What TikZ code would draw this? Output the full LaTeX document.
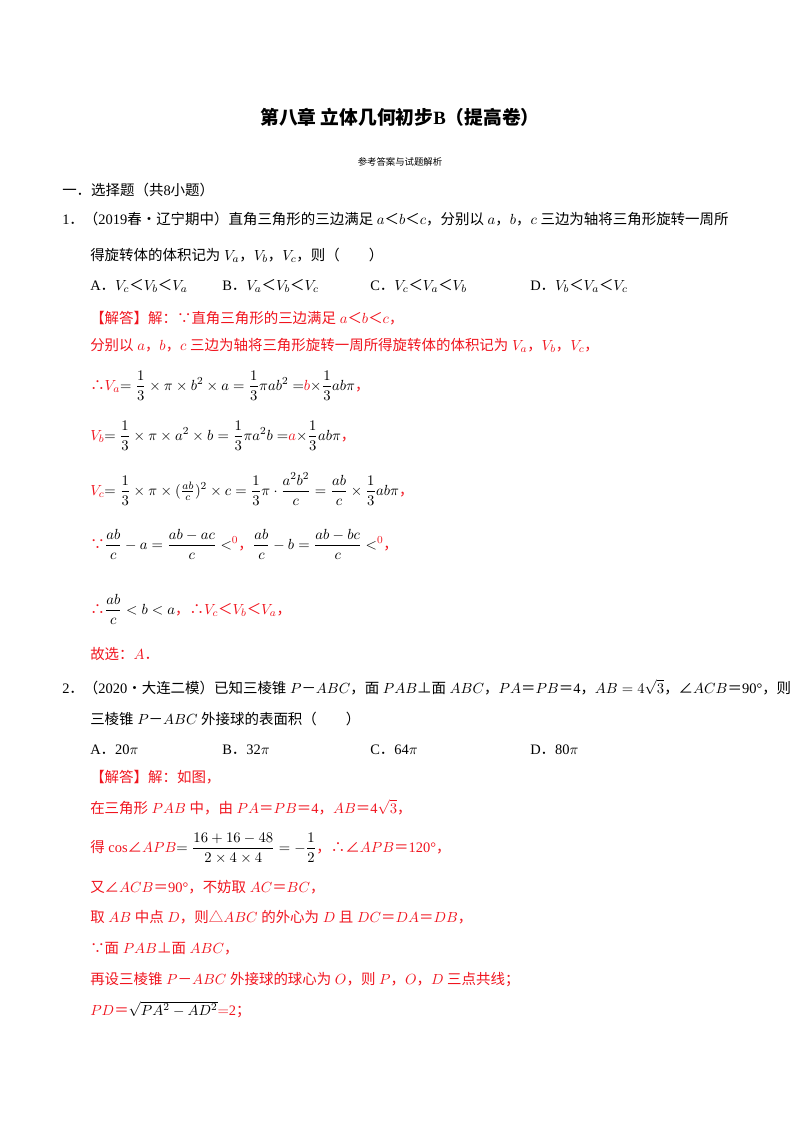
\documentclass[tikz,border=0pt]{standalone}
\usepackage{amsmath,amssymb}
\usepackage{fontspec}
\setmainfont{Liberation Serif}
\newfontfamily\cjk{Noto Sans CJK SC}
\newcommand\z[1]{{\cjk #1}}
\definecolor{ansred}{RGB}{240,20,30}
\begin{document}
\begin{tikzpicture}[x=0.02625cm,y=-0.02625cm,
  t/.style={anchor=base west,inner sep=0pt,font=\fontsize{10.8}{12}\selectfont},
  r/.style={t,text=ansred}]
\useasboundingbox (0,0) rectangle (800,1132);
\node[anchor=base,inner sep=0pt,font=\fontsize{14}{16}\selectfont\bfseries] (title) at (400,124) {\z{第八章 立体几何初步}B\z{（提高卷）}};
\node[anchor=base,inner sep=0pt,font=\fontsize{7}{8}\selectfont] (sub) at (400,165) {\z{参考答案与试题解析}};
\node[t] (sec) at (62,195) {\z{一．选择题（共}8\z{小题）}};
% Q1
\node[t] (q1a) at (62,224) {1\z{．（}2019\z{春•辽宁期中）直角三角形的三边满足} $a$\z{＜}$b$\z{＜}$c$\z{，分别以} $a$\z{，}$b$\z{，}$c$ \z{三边为轴将三角形旋转一周所}};
\node[t] (q1b) at (90,260) {\z{得旋转体的体积记为} $V_a$\z{，}$V_b$\z{，}$V_c$\z{，则（　　）}};
\node[t] (q1A) at (90,290) {A\z{．}$V_c$\z{＜}$V_b$\z{＜}$V_a$};
\node[t] (q1B) at (222,290) {B\z{．}$V_a$\z{＜}$V_b$\z{＜}$V_c$};
\node[t] (q1C) at (370,290) {C\z{．}$V_c$\z{＜}$V_a$\z{＜}$V_b$};
\node[t] (q1D) at (530,290) {D\z{．}$V_b$\z{＜}$V_a$\z{＜}$V_c$};
\node[r] (s1a) at (90,323) {\z{【解答】解：∵直角三角形的三边满足} $a$\z{＜}$b$\z{＜}$c$\z{，}};
\node[r] (s1b) at (90,350) {\z{分别以} $a$\z{，}$b$\z{，}$c$ \z{三边为轴将三角形旋转一周所得旋转体的体积记为} $V_a$\z{，}$V_b$\z{，}$V_c$\z{，}};
\node[r] (s1c) at (90,390) {\z{∴}$V_a$\textcolor{black}{$=\dfrac13\times\pi\times b^2\times a=\dfrac13\pi ab^2=$}$b$\textcolor{black}{$\times\dfrac13 ab\pi$}\z{，}};
\node[r] (s1d) at (90,440) {$V_b$\textcolor{black}{$=\dfrac13\times\pi\times a^2\times b=\dfrac13\pi a^2b=$}$a$\textcolor{black}{$\times\dfrac13 ab\pi$}\z{，}};
\node[r] (s1e) at (90,495) {$V_c$\textcolor{black}{$=\dfrac13\times\pi\times(\frac{ab}{c})^2\times c=\dfrac13\pi\cdot\dfrac{a^2b^2}{c}=\dfrac{ab}{c}\times\dfrac13 ab\pi$}\z{，}};
\node[r] (s1f) at (90,549) {\z{∵}\textcolor{black}{$\dfrac{ab}{c}-a=\dfrac{ab-ac}{c}<$}$^{0}$\z{，}\textcolor{black}{$\dfrac{ab}{c}-b=\dfrac{ab-bc}{c}<$}$^{0}$\z{，}};
\node[r] (s1g) at (90,614) {\z{∴}\textcolor{black}{$\dfrac{ab}{c}<b<a$}\z{，∴}$V_c$\z{＜}$V_b$\z{＜}$V_a$\z{，}};
\node[r] (s1h) at (90,659) {\z{故选：}$A$\z{．}};
% Q2
\node[t] (q2a) at (62,693) {2\z{．（}2020\z{•大连二模）已知三棱锥} $P$\z{－}$ABC$\z{，面} $PAB$\z{⊥面} $ABC$\z{，}$PA$\z{＝}$PB$\z{＝}4\z{，}$AB=4\sqrt3$\z{，}\z{∠}$ACB$\z{＝}90°\z{，则}};
\node[t] (q2b) at (90,724) {\z{三棱锥} $P$\z{－}$ABC$ \z{外接球的表面积（　　）}};
\node[t] (q2A) at (90,754) {A\z{．}20$\pi$};
\node[t] (q2B) at (222,754) {B\z{．}32$\pi$};
\node[t] (q2C) at (370,754) {C\z{．}64$\pi$};
\node[t] (q2D) at (530,754) {D\z{．}80$\pi$};
\node[r] (s2a) at (90,782) {\z{【解答】解：如图，}};
\node[r] (s2b) at (90,813) {\z{在三角形} $PAB$ \z{中，由} $PA$\z{＝}$PB$\z{＝}4\z{，}$AB$\z{＝}4$\sqrt3$\z{，}};
\node[r] (s2c) at (90,852) {\z{得} cos\z{∠}$APB$\textcolor{black}{$=\dfrac{16+16-48}{2\times4\times4}=-\dfrac12$}\z{，∴∠}$APB$\z{＝}120°\z{，}};
\node[r] (s2d) at (90,892) {\z{又∠}$ACB$\z{＝}90°\z{，不妨取} $AC$\z{＝}$BC$\z{，}};
\node[r] (s2e) at (90,922) {\z{取} $AB$ \z{中点} $D$\z{，则△}$ABC$ \z{的外心为} $D$ \z{且} $DC$\z{＝}$DA$\z{＝}$DB$\z{，}};
\node[r] (s2f) at (90,953) {\z{∵面} $PAB$\z{⊥面} $ABC$\z{，}};
\node[r] (s2g) at (90,984) {\z{再设三棱锥} $P$\z{－}$ABC$ \z{外接球的球心为} $O$\z{，则} $P$\z{，}$O$\z{，}$D$ \z{三点共线；}};
\node[r] (s2h) at (90,1015) {$PD$\z{＝}\textcolor{black}{$\sqrt{PA^2-AD^2}$}$=$2\z{；}};
\end{tikzpicture}
\end{document}
